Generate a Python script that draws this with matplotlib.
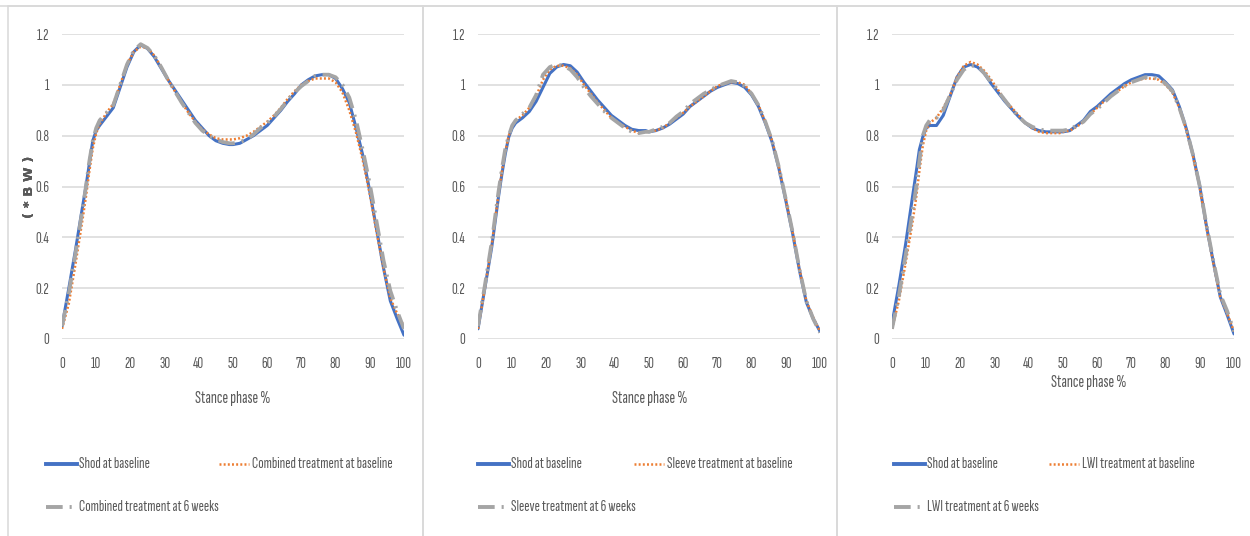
import matplotlib
matplotlib.use("Agg")
import matplotlib.pyplot as plt
from matplotlib.lines import Line2D
from matplotlib.patches import Rectangle

plt.rcParams['font.family'] = ['Sofia Sans Extra Condensed', 'DejaVu Sans']
plt.rcParams['lines.scale_dashes'] = False

# stance phase (%) sample points
stance = [0, 2, 4, 6, 7, 8, 9, 10, 11, 13, 15, 17, 19, 21, 23, 25, 27, 29, 31,
          33, 35, 37, 39, 41, 43, 45, 47, 49, 50, 52, 54, 56, 58, 60, 62, 64,
          66, 68, 70, 72, 74, 76, 78, 80, 82, 84, 86, 88, 90, 92, 94, 96, 98, 100]

# Combined treatment group
shod_combined = [0.05, 0.20, 0.355, 0.52, 0.60, 0.69, 0.78, 0.82, 0.84, 0.875, 0.91, 0.99,
                 1.07, 1.13, 1.157, 1.143, 1.11, 1.065, 1.02, 0.98, 0.94, 0.90, 0.86, 0.83,
                 0.80, 0.78, 0.77, 0.765, 0.765, 0.77, 0.785, 0.80, 0.82, 0.84, 0.87, 0.90,
                 0.935, 0.965, 1.00, 1.02, 1.035, 1.04, 1.04, 1.025, 0.985, 0.93, 0.83, 0.72,
                 0.58, 0.43, 0.28, 0.15, 0.08, 0.015]
combined_base = [0.04, 0.14, 0.30, 0.47, 0.56, 0.66, 0.75, 0.81, 0.845, 0.89, 0.925, 1.00,
                 1.08, 1.13, 1.15, 1.145, 1.115, 1.07, 1.02, 0.975, 0.93, 0.89, 0.855, 0.825,
                 0.805, 0.79, 0.785, 0.785, 0.785, 0.79, 0.80, 0.815, 0.835, 0.855, 0.88, 0.91,
                 0.945, 0.975, 1.00, 1.015, 1.025, 1.025, 1.025, 1.01, 0.97, 0.90, 0.81, 0.70,
                 0.57, 0.42, 0.28, 0.16, 0.10, 0.05]
combined_6wk = [0.05, 0.18, 0.34, 0.51, 0.60, 0.70, 0.78, 0.83, 0.86, 0.89, 0.92, 1.00,
                1.08, 1.135, 1.16, 1.145, 1.115, 1.07, 1.02, 0.975, 0.93, 0.89, 0.85, 0.82,
                0.80, 0.785, 0.775, 0.77, 0.77, 0.775, 0.785, 0.805, 0.83, 0.85, 0.875, 0.905,
                0.94, 0.97, 0.995, 1.015, 1.035, 1.04, 1.04, 1.03, 1.00, 0.95, 0.86, 0.74,
                0.61, 0.46, 0.31, 0.19, 0.11, 0.04]

# Sleeve treatment group
shod_sleeve = [0.04, 0.20, 0.36, 0.56, 0.65, 0.73, 0.795, 0.83, 0.85, 0.87, 0.895, 0.935,
               0.99, 1.045, 1.07, 1.08, 1.075, 1.05, 1.01, 0.975, 0.94, 0.91, 0.88, 0.86,
               0.84, 0.825, 0.82, 0.82, 0.815, 0.82, 0.83, 0.845, 0.865, 0.885, 0.915, 0.935,
               0.955, 0.975, 0.99, 1.00, 1.01, 1.005, 0.99, 0.96, 0.915, 0.85, 0.775, 0.67,
               0.545, 0.415, 0.27, 0.145, 0.08, 0.03]
sleeve_base = [0.04, 0.20, 0.37, 0.57, 0.66, 0.74, 0.80, 0.84, 0.86, 0.88, 0.91, 0.955,
               1.02, 1.06, 1.075, 1.075, 1.065, 1.04, 1.00, 0.965, 0.93, 0.90, 0.87, 0.85,
               0.835, 0.82, 0.81, 0.815, 0.815, 0.82, 0.83, 0.85, 0.87, 0.89, 0.915, 0.935,
               0.955, 0.975, 0.995, 1.005, 1.01, 1.01, 1.00, 0.965, 0.92, 0.855, 0.78, 0.675,
               0.55, 0.42, 0.275, 0.15, 0.085, 0.03]
sleeve_6wk = [0.05, 0.21, 0.38, 0.58, 0.67, 0.75, 0.80, 0.84, 0.86, 0.885, 0.91, 0.96,
              1.04, 1.07, 1.08, 1.075, 1.06, 1.03, 0.99, 0.955, 0.925, 0.895, 0.87, 0.85,
              0.83, 0.815, 0.81, 0.815, 0.815, 0.825, 0.835, 0.85, 0.875, 0.895, 0.925, 0.945,
              0.965, 0.98, 0.995, 1.005, 1.015, 1.01, 0.995, 0.965, 0.92, 0.855, 0.78, 0.675,
              0.55, 0.42, 0.275, 0.15, 0.08, 0.025]

# LWI treatment group
shod_lwi = [0.06, 0.21, 0.375, 0.56, 0.65, 0.745, 0.795, 0.83, 0.84, 0.84, 0.88, 0.955,
            1.03, 1.07, 1.08, 1.07, 1.045, 1.005, 0.97, 0.935, 0.905, 0.875, 0.85, 0.83,
            0.82, 0.815, 0.815, 0.815, 0.815, 0.82, 0.84, 0.86, 0.895, 0.915, 0.94, 0.965,
            0.985, 1.005, 1.02, 1.03, 1.04, 1.04, 1.035, 1.01, 0.98, 0.915, 0.83, 0.725,
            0.60, 0.44, 0.30, 0.165, 0.095, 0.02]
lwi_base = [0.04, 0.15, 0.30, 0.46, 0.55, 0.66, 0.76, 0.82, 0.85, 0.87, 0.91, 0.96,
            1.03, 1.075, 1.09, 1.08, 1.055, 1.02, 0.98, 0.94, 0.91, 0.88, 0.85, 0.83,
            0.815, 0.81, 0.81, 0.81, 0.815, 0.82, 0.835, 0.855, 0.885, 0.91, 0.935, 0.955,
            0.975, 0.995, 1.01, 1.02, 1.025, 1.025, 1.02, 1.00, 0.97, 0.91, 0.825, 0.72,
            0.595, 0.435, 0.295, 0.165, 0.10, 0.03]
lwi_6wk = [0.04, 0.17, 0.33, 0.50, 0.59, 0.70, 0.80, 0.84, 0.86, 0.87, 0.90, 0.96,
           1.02, 1.06, 1.075, 1.075, 1.045, 1.01, 0.975, 0.94, 0.905, 0.875, 0.85, 0.835,
           0.825, 0.82, 0.82, 0.82, 0.82, 0.825, 0.84, 0.855, 0.885, 0.905, 0.93, 0.955,
           0.975, 0.995, 1.01, 1.02, 1.03, 1.03, 1.025, 1.005, 0.975, 0.91, 0.83, 0.725,
           0.60, 0.445, 0.305, 0.175, 0.11, 0.03]

panels = [
    ("Combined", shod_combined, combined_base, combined_6wk),
    ("Sleeve", shod_sleeve, sleeve_base, sleeve_6wk),
    ("LWI", shod_lwi, lwi_base, lwi_6wk),
]

W, H = 1250, 536
BLUE, ORANGE, GREY = '#4472C4', '#ED7D31', '#A5A5A5'
TXT = '#595959'
GRID = '#D9D9D9'
FS = 11.5

blue_kw = dict(color=BLUE, lw=2.2, solid_capstyle='round')
orange_kw = dict(color=ORANGE, lw=1.8, dashes=(1.4, 1.6))
grey_kw = dict(color=GREY, lw=2.7, dashes=(12, 5, 1.5, 5))

fig = plt.figure(figsize=(W / 100, H / 100), dpi=100)

# chart frames (pixel left edges) and plot areas
frame_left = [8, 423, 837]
plot_left = [62, 478, 892]
plot_w = 342
plot_top, plot_bot = 34, 339
title_pos = [(233, 399), (650, 399), (1089, 382)]
legend_left = [46, 478, 894]
second_item = [173, 156, 155]

for i, (name, shod, base, wk6) in enumerate(panels):
    x0 = frame_left[i]
    x1 = frame_left[i + 1] if i < 2 else W + 2
    fig.add_artist(Rectangle((x0 / W, -0.01), (x1 - x0) / W, (H - 6) / H + 0.01,
                             transform=fig.transFigure, fill=False,
                             edgecolor=GRID, lw=1.1))

    ax = fig.add_axes([plot_left[i] / W, (H - plot_bot) / H,
                       plot_w / W, (plot_bot - plot_top) / H])
    ax.plot(stance, shod, **blue_kw)
    ax.plot(stance, base, **orange_kw)
    ax.plot(stance, wk6, **grey_kw)

    ax.set_xlim(0, 100)
    ax.set_ylim(0, 1.2)
    ax.set_xticks(range(0, 101, 10))
    ax.set_yticks([0, 0.2, 0.4, 0.6, 0.8, 1.0, 1.2])
    ax.set_yticklabels(['0', '0.2', '0.4', '0.6', '0.8', '1', '1.2'])
    ax.tick_params(length=0, labelsize=FS, labelcolor=TXT)
    ax.tick_params(axis='y', pad=9)
    ax.tick_params(axis='x', pad=13)
    ax.grid(axis='y', color=GRID, lw=1.1)
    ax.set_axisbelow(True)
    for s in ax.spines.values():
        s.set_visible(False)
    ax.set_ylabel('( * B W )', fontsize=9.5, color=TXT, family=['DejaVu Sans'],
                  fontweight='bold', va='center')
    ax.yaxis.set_label_coords((30 - plot_left[i]) / plot_w, 0.5)

    tx, ty = title_pos[i]
    fig.text(tx / W, 1 - ty / H, 'Stance phase %', fontsize=FS + 1, color=TXT,
             ha='center', va='center')

    # legend
    lx = legend_left[i]
    row1, row2 = 1 - 464 / H, 1 - 507 / H
    fig.add_artist(Line2D([lx / W, (lx + 31) / W], [row1, row1],
                          transform=fig.transFigure, color=BLUE, lw=2.8))
    fig.text((lx + 33) / W, row1, 'Shod at baseline', fontsize=FS, color=TXT,
             va='center')
    ox = lx + second_item[i]
    fig.add_artist(Line2D([ox / W, (ox + 30) / W], [row1, row1],
                          transform=fig.transFigure, color=ORANGE, lw=1.8,
                          dashes=(1.4, 1.6)))
    fig.text((ox + 33) / W, row1, f'{name} treatment at baseline', fontsize=FS,
             color=TXT, va='center')
    fig.add_artist(Line2D([lx / W, (lx + 31) / W], [row2, row2],
                          transform=fig.transFigure, color=GREY, lw=2.8,
                          dashes=(12, 5, 1.5, 5)))
    fig.text((lx + 33) / W, row2, f'{name} treatment at 6 weeks', fontsize=FS,
             color=TXT, va='center')

fig.add_artist(Line2D([0, 1], [1 - 6 / H, 1 - 6 / H], transform=fig.transFigure,
                      color=GRID, lw=1.1))

fig.savefig('out.png', dpi=100, facecolor='white')
